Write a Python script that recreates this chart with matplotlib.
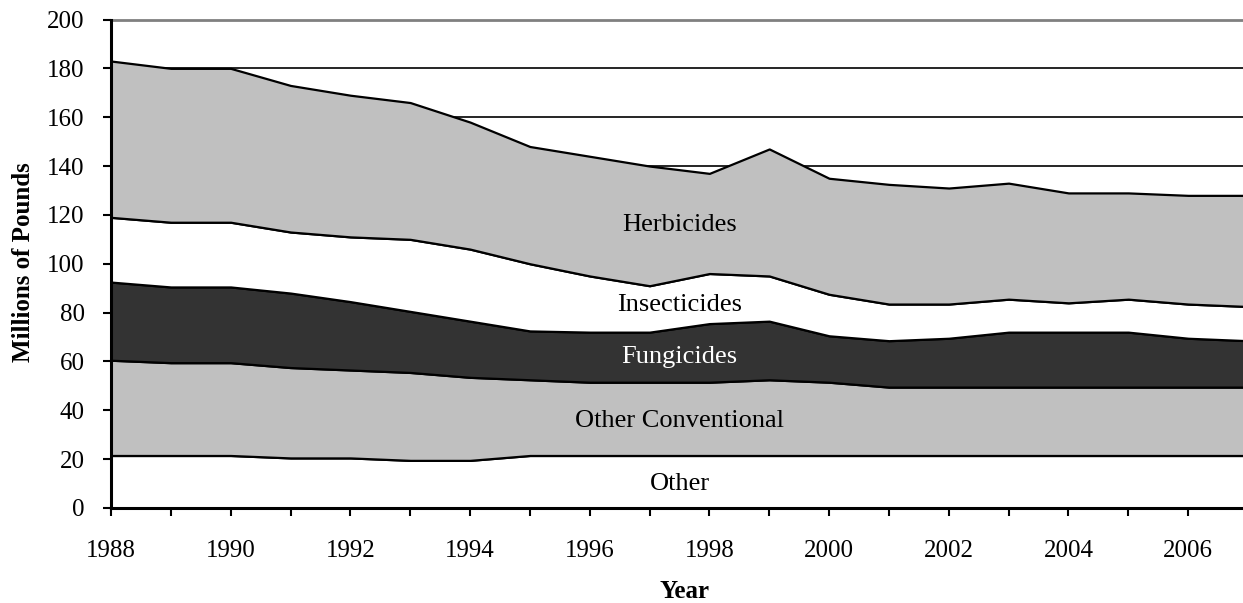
import numpy as np
import matplotlib.pyplot as plt

plt.rcParams['font.family'] = ['Liberation Serif', 'DejaVu Serif']

# Pesticide use, millions of pounds (stacked from bottom)
years = np.arange(1988, 2008)
other = [21.5, 21.5, 21.5, 20.5, 20.5, 19.5, 19.5, 21.5, 21.5, 21.5,
         21.5, 21.5, 21.5, 21.5, 21.5, 21.5, 21.5, 21.5, 21.5, 21.5]
other_conv = [39, 38, 38, 37, 36, 36, 34, 31, 30, 30,
              30, 31, 30, 28, 28, 28, 28, 28, 28, 28]
fungicides = [32, 31, 31, 30.5, 28, 25, 23, 20, 20.5, 20.5,
              24, 24, 19, 19, 20, 22.5, 22.5, 22.5, 20, 19]
insecticides = [26.5, 26.5, 26.5, 25, 26.5, 29.5, 29.5, 27.5, 23, 19,
                20.5, 18.5, 17, 15, 14, 13.5, 12, 13.5, 14, 14]
herbicides = [64, 63, 63, 60, 58, 56, 52, 48, 49, 49,
              41, 52, 47.5, 49, 47.5, 47.5, 45, 43.5, 44.5, 45.5]

labels = ['Other', 'Other Conventional', 'Fungicides', 'Insecticides', 'Herbicides']
colors = ['white', '#c0c0c0', '#333333', 'white', '#c0c0c0']

fig = plt.figure(figsize=(12.43, 6.03), dpi=100)
ax = fig.add_axes([111 / 1243, 1 - 508 / 603, (1248 - 111) / 1243, 488.5 / 603])

ax.stackplot(years, other, other_conv, fungicides, insecticides, herbicides,
             colors=colors, edgecolor='black', linewidth=1.6, zorder=2)

ax.set_xlim(1988, 2007)
ax.set_ylim(0, 200)
ax.set_yticks(np.arange(0, 201, 20))
ax.set_xticks(years, minor=True)
ax.set_xticks(np.arange(1988, 2007, 2))
ax.yaxis.grid(True, color='black', linewidth=1.2, zorder=0)
ax.set_axisbelow(True)

ax.tick_params(axis='y', direction='out', length=6, width=1.5, pad=13, labelsize=18)
ax.tick_params(axis='x', which='both', direction='out', length=6, width=1.5,
               pad=17, labelsize=18)
ax.tick_params(axis='x', which='minor', labelbottom=False)

for side in ['left', 'bottom']:
    ax.spines[side].set_linewidth(2.2)
    ax.spines[side].set_zorder(3)
ax.spines['top'].set_color('#808080')
ax.spines['top'].set_linewidth(2)
ax.spines['right'].set_visible(False)

# in-area series labels
ax.text(1997.5, 116, 'Herbicides', ha='center', va='center', fontsize=19, zorder=4)
ax.text(1997.5, 83, 'Insecticides', ha='center', va='center', fontsize=19, zorder=4)
ax.text(1997.5, 62, 'Fungicides', ha='center', va='center', fontsize=19,
        color='white', zorder=4)
ax.text(1997.5, 35.5, 'Other Conventional', ha='center', va='center', fontsize=19, zorder=4)
ax.text(1997.5, 10, 'Other', ha='center', va='center', fontsize=19, zorder=4)

fig.text(24 / 1243, 1 - 262 / 603, 'Millions of Pounds', rotation=90, ha='center',
         va='center', fontsize=18, fontweight='bold')
fig.text(685 / 1243, 1 - 591 / 603, 'Year', ha='center', va='center',
         fontsize=18, fontweight='bold')

fig.savefig('out.png', dpi=100)
